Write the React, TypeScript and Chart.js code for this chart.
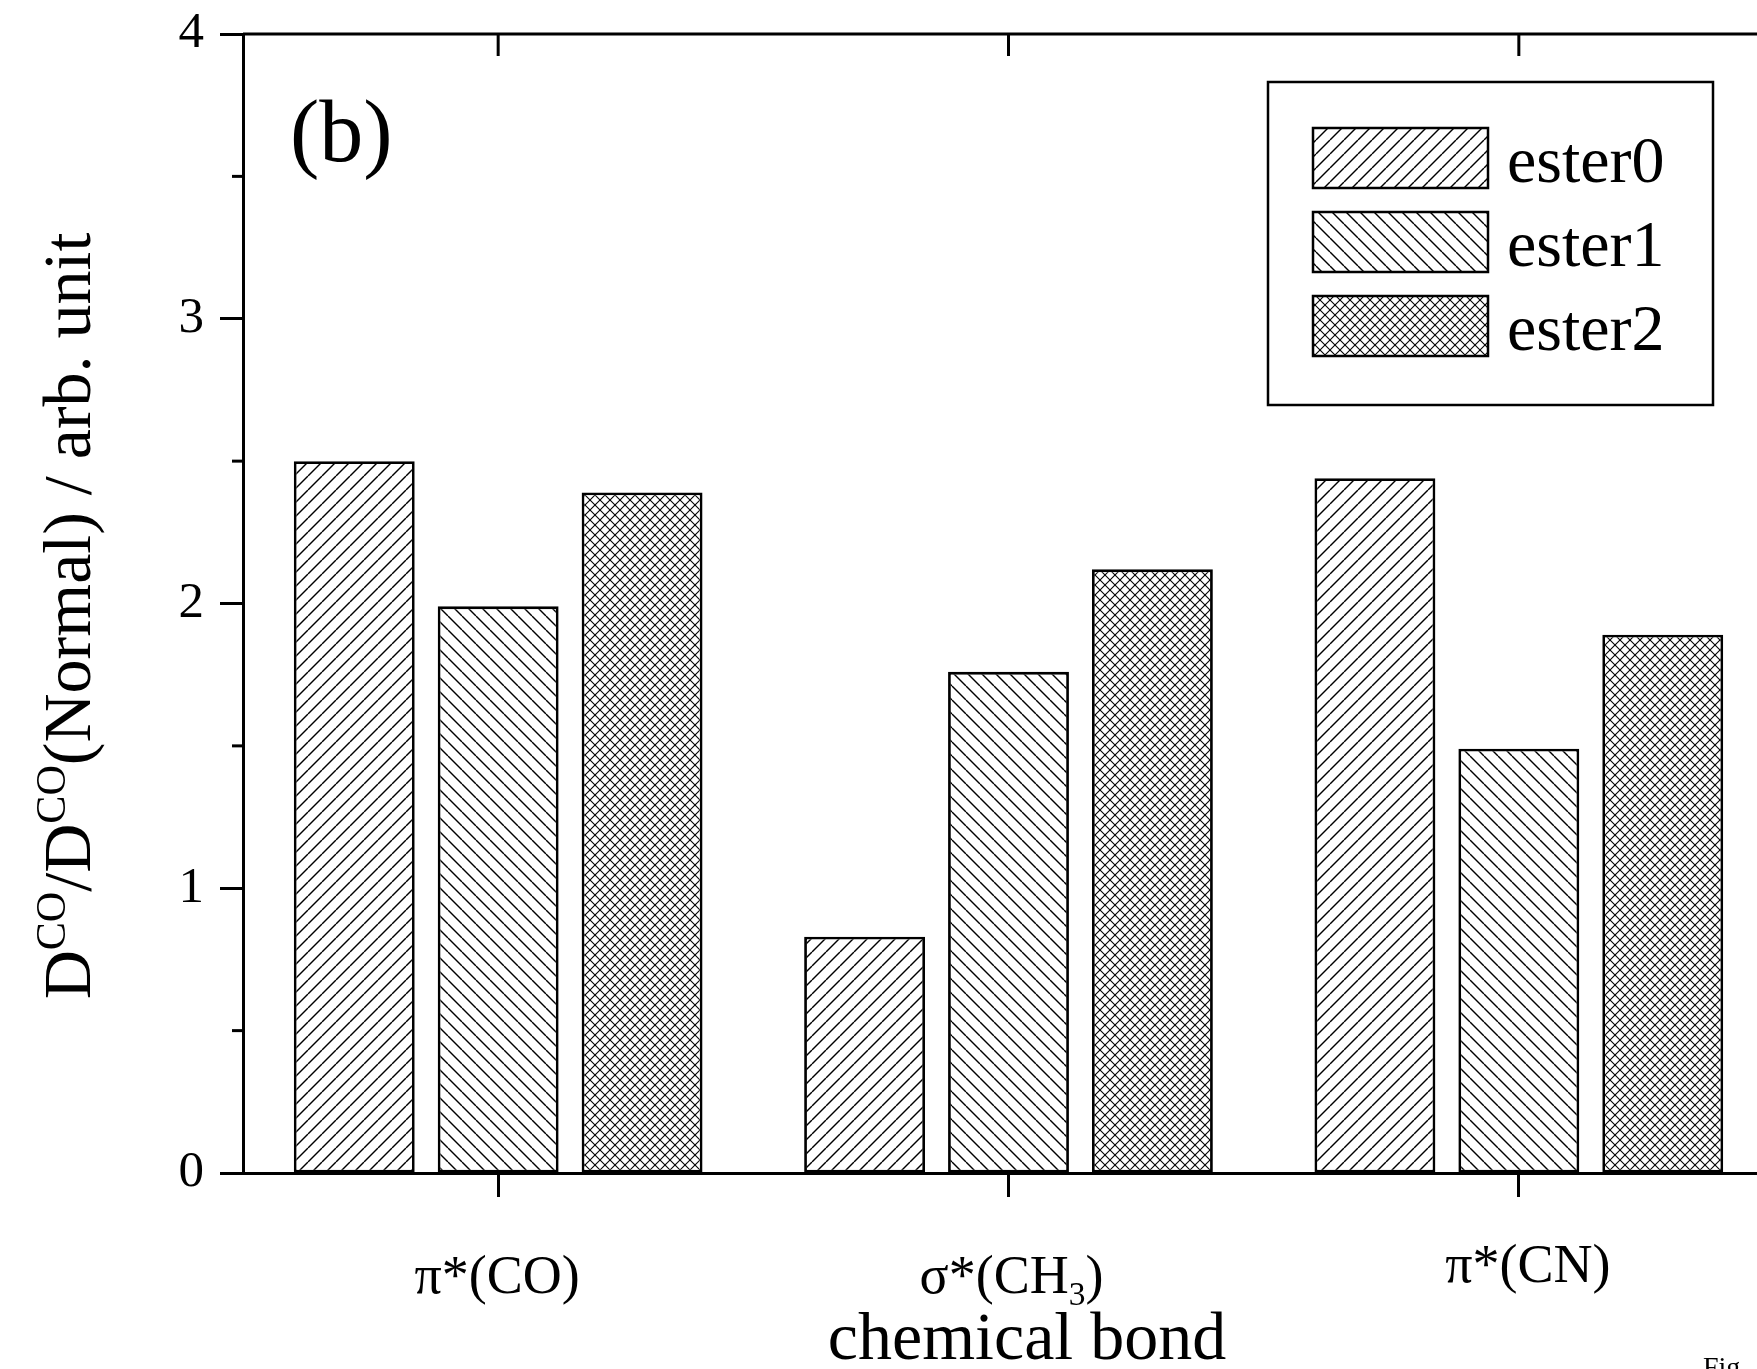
import React, { useEffect, useRef } from "react";
import { Chart, registerables } from "chart.js";

Chart.register(...registerables);

// ---- data ----
const categories = ["π*(CO)", "σ*(CH₃)", "π*(CN)"];
const seriesNames = ["ester0", "ester1", "ester2"];
const ester0 = [2.5, 0.83, 2.44];
const ester1 = [1.99, 1.76, 1.49];
const ester2 = [2.39, 2.12, 1.89];
const yMin = 0;
const yMax = 4;
const yMajorStep = 1;
const yMinorTicks = [0.5, 1.5, 2.5, 3.5];
const panelLabel = "(b)";
const xTitle = "chemical bond";
const yTitleParts = [
  { t: "D" },
  { t: "CO", sup: true },
  { t: "/D" },
  { t: "CO", sup: true },
  { t: "(Normal) / arb. unit" },
];
const footText = "Fig.";

// ---- style ----
const FONT = '"Liberation Serif", "Times New Roman", serif';
const CANVAS_W = 1774;
const CANVAS_H = 1369;
const TOP_PAD = 34;
const xLabelDx = [-1, 3, 9];
const xLabelDy = [0, 0, -11];

type Seg = { t: string; sup?: boolean; sub?: boolean };

function splitSub(label: string): Seg[] {
  const map: Record<string, string> = { "₀": "0", "₁": "1", "₂": "2", "₃": "3", "₄": "4" };
  const segs: Seg[] = [];
  for (const ch of label) {
    const isSub = ch in map;
    const t = isSub ? map[ch] : ch;
    const last = segs[segs.length - 1];
    if (last && !!last.sub === isSub) last.t += t;
    else segs.push({ t, sub: isSub });
  }
  return segs;
}

function drawRich(
  ctx: CanvasRenderingContext2D,
  segs: Seg[],
  x: number,
  y: number,
  size: number,
  align: "left" | "center",
  smallRatio: number,
  supRaise: number,
  subDrop: number
) {
  ctx.textAlign = "left";
  ctx.textBaseline = "alphabetic";
  const parts = segs.map((s) => {
    const fs = s.sup || s.sub ? size * smallRatio : size;
    ctx.font = `${fs}px ${FONT}`;
    return { ...s, fs, w: ctx.measureText(s.t).width };
  });
  const total = parts.reduce((a, p) => a + p.w, 0);
  let cx = align === "center" ? x - total / 2 : x;
  for (const p of parts) {
    ctx.font = `${p.fs}px ${FONT}`;
    const dy = p.sup ? -supRaise : p.sub ? subDrop : 0;
    ctx.fillText(p.t, cx, y + dy);
    cx += p.w;
  }
}

function makeHatch(
  ctx: CanvasRenderingContext2D,
  p: number,
  dirs: ("f" | "b")[],
  lw: number
): CanvasPattern | string {
  const c = document.createElement("canvas");
  c.width = p;
  c.height = p;
  const g = c.getContext("2d");
  if (!g) return "#fff";
  g.fillStyle = "#fff";
  g.fillRect(0, 0, p, p);
  g.strokeStyle = "#000";
  g.lineWidth = lw;
  for (const d of dirs) {
    for (const k of [-p, 0, p]) {
      g.beginPath();
      if (d === "f") {
        g.moveTo(k, p);
        g.lineTo(k + p, 0);
      } else {
        g.moveTo(k, 0);
        g.lineTo(k + p, p);
      }
      g.stroke();
    }
  }
  return ctx.createPattern(c, "repeat") || "#fff";
}

const decorPlugin = {
  id: "decor",
  afterDraw(chart: any) {
    const ctx: CanvasRenderingContext2D = chart.ctx;
    const area = chart.chartArea;
    const xs = chart.scales.x;
    const ys = chart.scales.y;
    ctx.save();
    ctx.strokeStyle = "#000";
    ctx.fillStyle = "#000";

    // top frame line
    ctx.lineWidth = 3;
    ctx.beginPath();
    ctx.moveTo(area.left, area.top);
    ctx.lineTo(area.right, area.top);
    ctx.stroke();

    // top inward ticks at category centers
    categories.forEach((_, i) => {
      const px = xs.getPixelForValue(i);
      ctx.beginPath();
      ctx.moveTo(px, area.top);
      ctx.lineTo(px, area.top + 22);
      ctx.stroke();
    });

    // minor y ticks
    yMinorTicks.forEach((v) => {
      const py = ys.getPixelForValue(v);
      ctx.beginPath();
      ctx.moveTo(area.left - 11, py);
      ctx.lineTo(area.left, py);
      ctx.stroke();
    });

    // x tick labels (with subscripts)
    categories.forEach((lab, i) => {
      const px = xs.getPixelForValue(i);
      drawRich(ctx, splitSub(lab), px + xLabelDx[i], area.bottom + 120 + xLabelDy[i], 54, "center", 0.62, 0, 12);
    });

    // x title
    drawRich(ctx, [{ t: xTitle }], 1027, 1359, 68, "center", 1, 0, 0);

    // y title (rotated)
    ctx.save();
    ctx.translate(90, 616);
    ctx.rotate(-Math.PI / 2);
    drawRich(ctx, yTitleParts, 0, 0, 68, "center", 0.62, 25, 0);
    ctx.restore();

    // panel label
    drawRich(ctx, [{ t: panelLabel }], 290, 161, 88, "left", 1, 0, 0);

    // legend
    const bx = 1268, by = 82, bw = 445, bh = 323;
    ctx.lineWidth = 2.5;
    ctx.strokeRect(bx, by, bw, bh);
    chart.data.datasets.forEach((ds: any, i: number) => {
      const sy = 128 + i * 84;
      ctx.fillStyle = ds.backgroundColor;
      ctx.fillRect(1313, sy, 175, 60);
      ctx.lineWidth = 2.5;
      ctx.strokeRect(1313, sy, 175, 60);
      ctx.fillStyle = "#000";
      drawRich(ctx, [{ t: ds.label }], 1507, sy + 54, 66, "left", 1, 0, 0);
    });

    // cut-off footer text
    drawRich(ctx, [{ t: footText }], 1703, 1376, 28, "left", 1, 0, 0);

    ctx.restore();
  },
};

export default function App() {
  const canvasRef = useRef<HTMLCanvasElement | null>(null);

  useEffect(() => {
    const canvas = canvasRef.current;
    if (!canvas) return;
    const ctx = canvas.getContext("2d");
    if (!ctx) return;

    const patterns = [
      makeHatch(ctx, 14, ["f"], 1.4),
      makeHatch(ctx, 14, ["b"], 1.4),
      makeHatch(ctx, 10, ["f", "b"], 1.1),
    ];
    const values = [ester0, ester1, ester2];

    const chart = new Chart(ctx, {
      type: "bar",
      data: {
        labels: categories,
        datasets: seriesNames.map((name, i) => ({
          label: name,
          data: values[i],
          backgroundColor: patterns[i] as any,
          borderColor: "#000",
          borderWidth: 2.8,
          borderSkipped: false,
          categoryPercentage: 0.846,
          barPercentage: 0.84,
        })),
      },
      options: {
        responsive: false,
        animation: false,
        devicePixelRatio: 1,
        layout: { padding: { top: TOP_PAD, left: 0, right: 0, bottom: 0 } },
        plugins: {
          legend: { display: false },
          tooltip: { enabled: false },
          title: { display: false },
        },
        scales: {
          x: {
            type: "category",
            offset: true,
            grid: {
              offset: false,
              drawOnChartArea: false,
              drawTicks: true,
              tickLength: 24,
              tickWidth: 3,
              tickColor: "#000",
            },
            border: { display: true, color: "#000", width: 3 },
            ticks: { display: false },
            afterFit: (scale: any) => {
              scale.height = 196;
              scale.paddingLeft = 0;
              scale.paddingRight = 0;
            },
          },
          y: {
            type: "linear",
            min: yMin,
            max: yMax,
            ticks: {
              stepSize: yMajorStep,
              color: "#000",
              padding: 16,
              font: { family: FONT, size: 51 },
            },
            grid: {
              drawOnChartArea: false,
              drawTicks: true,
              tickLength: 23,
              tickWidth: 3,
              tickColor: "#000",
            },
            border: { display: true, color: "#000", width: 3 },
            afterFit: (scale: any) => {
              scale.width = 243;
              scale.paddingTop = 0;
              scale.paddingBottom = 0;
            },
          },
        },
      },
      plugins: [decorPlugin],
    });

    let alive = true;
    if ((document as any).fonts && (document as any).fonts.load) {
      (document as any).fonts
        .load(`50px "Liberation Serif"`)
        .then(() => {
          if (alive) chart.update();
        })
        .catch(() => {});
    }

    return () => {
      alive = false;
      chart.destroy();
    };
  }, []);

  return (
    <div
      style={{
        position: "fixed",
        left: 0,
        top: 0,
        width: 1757,
        height: 1369,
        overflow: "hidden",
        background: "#fff",
      }}
    >
      <canvas
        ref={canvasRef}
        width={CANVAS_W}
        height={CANVAS_H}
        style={{ display: "block", width: CANVAS_W, height: CANVAS_H }}
      />
    </div>
  );
}
